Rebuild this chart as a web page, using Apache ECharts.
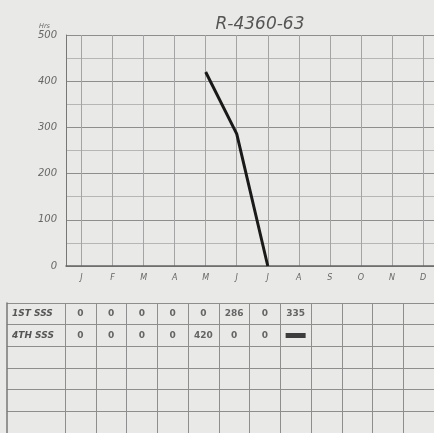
<!DOCTYPE html>
<html>
<head>
<meta charset="utf-8">
<script src="https://cdn.jsdelivr.net/npm/echarts@6/dist/echarts.min.js"></script>
<style>html,body{margin:0;padding:0;background:#e8e8e6;}#c{width:434px;height:433px;}</style>
</head>
<body>
<div id="c"></div>
<script>
var title = 'R-4360-63';
var months = ['J','F','M','A','M','J','J','A','S','O','N','D'];
var hoursLine = [null,null,null,null,420,286,0,null,null,null,null,null];
var tableRows = ['1ST SSS','4TH SSS','','','',''];
var sss1 = [0,0,0,0,0,286,0,335];
var sss4 = [0,0,0,0,420,0,0,null];
var sss4Marker = [7];

var cellData = [];
sss1.forEach(function(v,i){ if(v!==null) cellData.push([i,0,v]); });
sss4.forEach(function(v,i){ if(v!==null) cellData.push([i,1,v]); });
var markerData = sss4Marker.map(function(i){ return [i,1]; });

var gridColor = '#a4a4a4';
var chart = echarts.init(document.getElementById('c'));
chart.setOption({
  backgroundColor: '#e9e9e8',
  animation: false,
  title: {
    text: title, left: 255, top: 11, textAlign: 'center',
    textStyle: {fontFamily: 'DejaVu Sans', fontStyle: 'italic', fontWeight: 'normal', fontSize: 17, color: '#555'}
  },
  grid: [
    {left: 66, right: 0, top: 35, height: 231},
    {left: 81.5, right: 11, top: 35, height: 231},
    {left: 7, width: 433, top: 303, height: 135.6},
    {left: 65, width: 375, top: 303, height: 135.6}
  ],
  xAxis: [
    {gridIndex: 0, type: 'value', min: 0, max: 1, position: 'bottom',
     axisLine: {show: true, lineStyle: {color: '#666', width: 1.5}}, axisTick: {show: false},
     axisLabel: {show: false}, splitLine: {show: false}},
    {gridIndex: 1, type: 'category', data: months, boundaryGap: false,
     axisLine: {show: false}, axisTick: {show: false},
     axisLabel: {margin: 8, fontFamily: 'DejaVu Sans', fontStyle: 'italic', fontSize: 8, color: '#666'},
     splitLine: {show: true, lineStyle: {color: gridColor, width: 1}}},
    {gridIndex: 2, type: 'value', min: 0, max: 1, show: false},
    {gridIndex: 3, type: 'category', data: months, boundaryGap: true,
     axisLine: {show: false}, axisTick: {show: false}, axisLabel: {show: false},
     splitLine: {show: true, lineStyle: {color: '#8e8e8e', width: 1}}}
  ],
  yAxis: [
    {gridIndex: 0, type: 'value', min: 0, max: 500, interval: 50,
     name: 'Hrs', nameLocation: 'end', nameGap: 2,
     nameTextStyle: {fontFamily: 'DejaVu Sans', fontStyle: 'italic', fontSize: 6.5, color: '#666', align: 'right', padding: [0, 16, 0, 0]},
     axisLine: {show: true, lineStyle: {color: '#777'}}, axisTick: {show: false},
     axisLabel: {margin: 9, fontFamily: 'DejaVu Sans', fontStyle: 'italic', fontSize: 10, color: '#666',
       formatter: function(v){ return v % 100 === 0 ? String(v) : ''; }},
     splitLine: {show: true, lineStyle: {color: ['#8e8e8e', '#b6b6b6'], width: 1}}},
    {gridIndex: 1, type: 'value', min: 0, max: 500, show: false},
    {gridIndex: 2, type: 'category', data: tableRows, inverse: true, boundaryGap: true,
     axisLine: {show: true, lineStyle: {color: '#777', width: 1.5}}, axisTick: {show: false},
     axisLabel: {inside: true, margin: 5, fontFamily: 'DejaVu Sans', fontStyle: 'italic', fontWeight: 'bold', fontSize: 9, color: '#555'},
     splitLine: {show: true, lineStyle: {color: '#8e8e8e', width: 1}}},
    {gridIndex: 3, type: 'category', data: tableRows, inverse: true, boundaryGap: true, show: false}
  ],
  series: [
    {type: 'line', xAxisIndex: 1, yAxisIndex: 1, data: hoursLine, symbol: 'none',
     lineStyle: {color: '#1a1a1a', width: 3}},
    {type: 'scatter', xAxisIndex: 3, yAxisIndex: 3, data: cellData, symbolSize: 0,
     label: {show: true, position: 'inside', formatter: function(p){ return String(p.value[2]); },
       fontFamily: 'DejaVu Sans', fontWeight: 'bold', fontSize: 9, color: '#444'}},
    {type: 'scatter', xAxisIndex: 3, yAxisIndex: 3, data: markerData, symbol: 'rect', symbolSize: [20, 5],
     itemStyle: {color: '#111'}}
  ]
});
</script>
</body>
</html>
